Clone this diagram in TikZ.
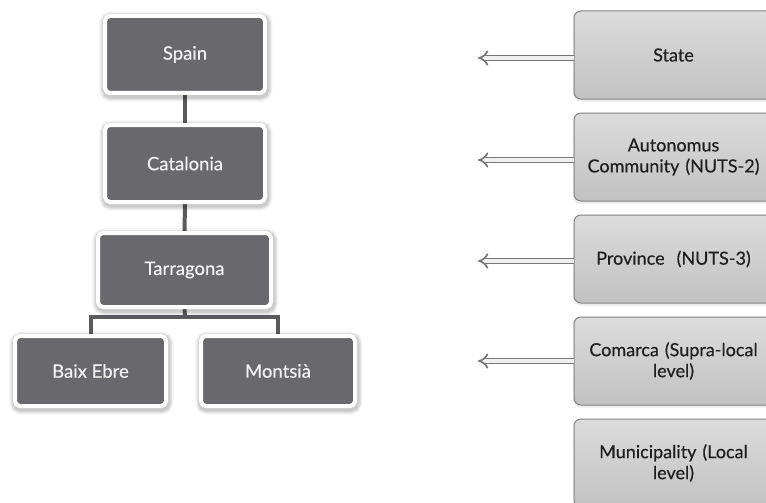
\documentclass[tikz,border=0pt]{standalone}
\usepackage{fontspec}
\setmainfont{Lato}
\newfontfamily\labelfont[FakeBold=0.35]{Lato}
\usetikzlibrary{arrows.meta,backgrounds}
\definecolor{boxdark}{HTML}{69686C}
\definecolor{levelfill}{HTML}{D0D0D0}
\definecolor{levelline}{HTML}{858585}
\definecolor{linkgray}{HTML}{5A595D}
\definecolor{arrowgray}{HTML}{777777}
\tikzset{
  unit/.style={draw=white, line width=4pt, fill=boxdark, rounded corners=5pt,
    text=white!95!black, font=\labelfont\fontsize{18.5}{21}\selectfont, align=center,
    inner sep=0pt,
    preaction={draw=black, draw opacity=0.05, line width=13pt, fill=none,
      transform canvas={xshift=0.8pt, yshift=-2pt}},
    preaction={draw=black, draw opacity=0.07, line width=10pt, fill=none,
      transform canvas={xshift=0.8pt, yshift=-2pt}},
    preaction={draw=black, draw opacity=0.09, line width=7pt, fill=none,
      transform canvas={xshift=0.8pt, yshift=-2pt}}},
  level/.style={draw=levelline, line width=1pt, top color=levelfill!75!white,
    bottom color=levelfill!93!black, rounded corners=7pt, minimum width=199pt,
    minimum height=88pt, text=black!88, font=\labelfont\fontsize{18}{21}\selectfont,
    align=center, inner sep=0pt, text width=192pt,
    preaction={draw=black, draw opacity=0.08, line width=3pt, fill=none,
      transform canvas={xshift=0.5pt, yshift=-1.2pt}}},
  link/.style={draw=linkgray, line width=4pt},
  pointer/.style={draw=arrowgray, double=gray!12, double distance=3.4pt,
    line width=1.7pt, -{Implies}},
}
\begin{document}
\begin{tikzpicture}[x=1pt, y=-1pt]
\useasboundingbox (0,0) rectangle (766,503);
\clip (0,0) rectangle (766,503);

% territorial units
\node[unit, minimum width=160pt, minimum height=77pt] (spain) at (185,54.5) {Spain};
\node[unit, minimum width=160pt, minimum height=77pt] (catalonia) at (185,163.5) {Catalonia};
\node[unit, minimum width=173pt, minimum height=74pt] (tarragona) at (184.5,270) {Tarragona};
\node[unit, minimum width=151pt, minimum height=70pt] (baix) at (90.5,371) {Baix Ebre};
\node[unit, minimum width=154pt, minimum height=70pt] (montsia) at (278,371) {Montsià};

% hierarchy links, kept behind the boxes
\coordinate (fork) at (185,317);
\begin{pgfonlayer}{background}
\fill[white] (0,0) rectangle (766,503);
\draw[link] (spain.south) -- (catalonia.north);
\draw[link] (catalonia.south) -- (tarragona.north);
\draw[link] (tarragona.south) -- (fork);
\draw[link] (fork) -| (baix.north);
\draw[link] (fork) -| (montsia.north);
\end{pgfonlayer}

% administrative levels
\node[level] (state) at (673.5,55) {State};
\node[level] (auto) at (673.5,157) {Autonomus\\Community (NUTS-2)};
\node[level] (prov) at (673.5,259) {Province\ \ (NUTS-3)};
\node[level] (comarca) at (673.5,361) {Comarca (Supra-local\\level)};
\node[level] (muni) at (673.5,463) {Municipality (Local\\level)};

% pointers
\foreach \n/\y in {state/58, auto/160, prov/261, comarca/361} {
  \coordinate (\n-tip) at (478,\y);
  \draw[pointer] (\n.west |- \n-tip) -- (\n-tip);
}
\end{tikzpicture}
\end{document}
